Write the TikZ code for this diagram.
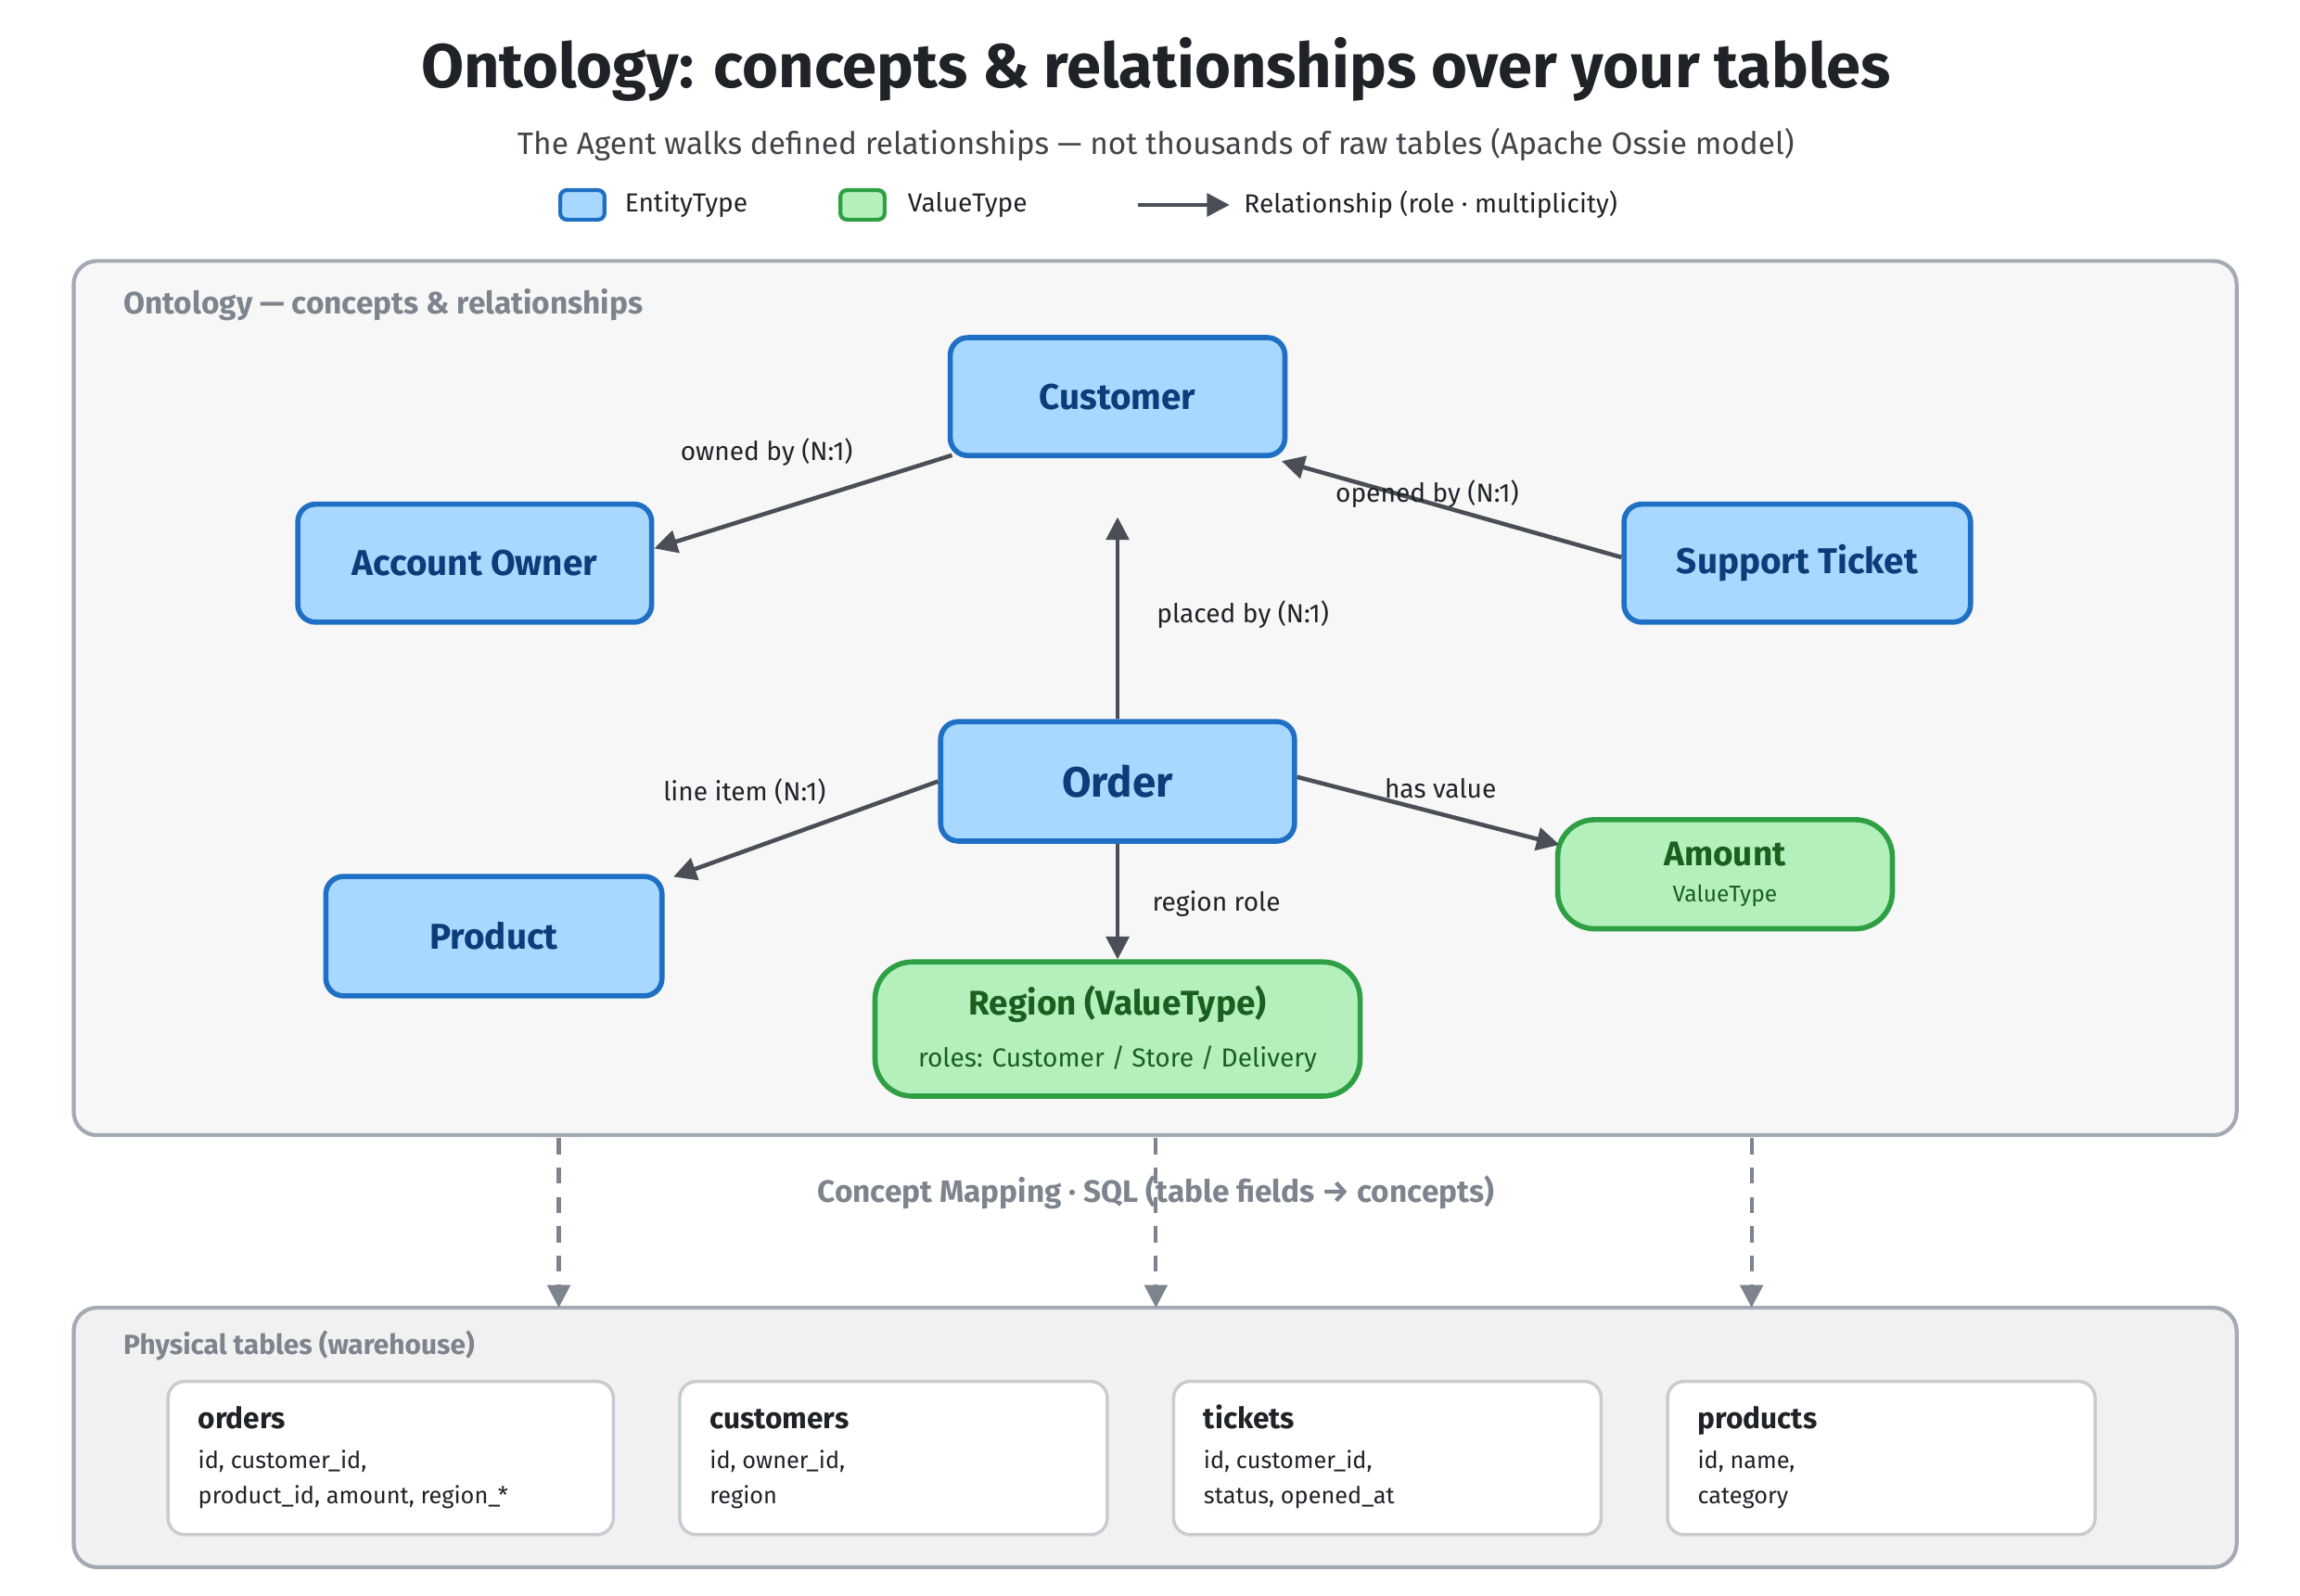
\documentclass[tikz,border=0pt]{standalone}
\usepackage{fontspec}
\setmainfont{Fira Sans}
\usetikzlibrary{arrows.meta,calc}
\definecolor{bfill}{HTML}{A8D8FF}\definecolor{bline}{HTML}{1F6FC5}\definecolor{btext}{HTML}{0D3C7A}
\definecolor{gfill}{HTML}{B4F0BC}\definecolor{gline}{HTML}{2EA043}\definecolor{gtext}{HTML}{1B5E20}
\definecolor{edge}{HTML}{4A4F57}\definecolor{gframe}{HTML}{A3AAB3}\definecolor{glabel}{HTML}{7D848D}
\definecolor{ink}{HTML}{1F2328}
\begin{document}
\begin{tikzpicture}[x=0.0159cm,y=-0.0159cm,
 ent/.style={draw=bline,fill=bfill,line width=1.6pt,rounded corners=0.19cm,text=btext,font=\fontsize{11}{13}\selectfont\bfseries,inner sep=0pt},
 val/.style={draw=gline,fill=gfill,line width=1.6pt,rounded corners=0.4cm,text=gtext,align=center,inner sep=0pt},
 rel/.style={draw=edge,line width=1.3pt,-{Triangle[length=7pt,width=7pt]}},
 lab/.style={font=\fontsize{8}{10}\selectfont,text=ink},
 frame/.style={draw=gframe,line width=1.2pt,rounded corners=0.25cm},
 map/.style={draw=glabel,line width=1.2pt,dashed,dash pattern=on 5pt off 4pt,-{Triangle[length=7pt,width=7pt]}},
 tbl/.style={draw=gframe!60,fill=white,line width=1pt,rounded corners=0.18cm,minimum width={290*0.0159cm},minimum height={104*0.0159cm}},
 glab/.style={font=\fontsize{9.5}{11}\selectfont\bfseries,text=glabel,anchor=west}]
\useasboundingbox (0,0) rectangle (1560,1082);
\node[font=\fontsize{19}{22}\selectfont\bfseries,text=ink] (title) at (784,47) {Ontology: concepts \& relationships over your tables};
\node[font=\fontsize{9.5}{11}\selectfont,text=ink!85] (sub) at (784,98) {The Agent walks defined relationships — not thousands of raw tables (Apache Ossie model)};
% legend
\node[draw=bline,fill=bfill,line width=1.2pt,rounded corners=2pt,minimum width={30*0.0159cm},minimum height={20*0.0159cm}] (lg1) at (395,139) {};
\node[lab,anchor=west] (lt1) at (416,139) {EntityType};
\node[draw=gline,fill=gfill,line width=1.2pt,rounded corners=2pt,minimum width={30*0.0159cm},minimum height={20*0.0159cm}] (lg2) at (585,139) {};
\node[lab,anchor=west] (lt2) at (608,139) {ValueType};
\coordinate (la) at (772,139); \coordinate (lb) at (834,139);
\draw[rel] (la) -- (lb);
\node[lab,anchor=west] (lt3) at (836,139) {Relationship (role · multiplicity)};
% ontology frame
\draw[frame,fill=gray!6] (50,177) rectangle (1517,770);
\node[glab] (olab) at (76,207) {Ontology — concepts \& relationships};
\node[ent,minimum width={227*0.0159cm},minimum height={80*0.0159cm}] (cust) at (758,269) {Customer};
\node[ent,minimum width={240*0.0159cm},minimum height={80*0.0159cm}] (acct) at (322,382) {Account Owner};
\node[ent,minimum width={235*0.0159cm},minimum height={80*0.0159cm}] (tick) at (1219,382) {Support Ticket};
\node[ent,minimum width={240*0.0159cm},minimum height={81*0.0159cm},font=\fontsize{13}{15}\selectfont\bfseries] (order) at (758,530) {Order};
\node[ent,minimum width={228*0.0159cm},minimum height={81*0.0159cm}] (prod) at (335,635) {Product};
\node[val,minimum width={227*0.0159cm},minimum height={74*0.0159cm}] (amt) at (1170,593) {{\fontsize{10.5}{12}\selectfont\bfseries Amount}\\[-1pt]{\fontsize{7}{9}\selectfont ValueType}};
\node[val,minimum width={329*0.0159cm},minimum height={91*0.0159cm}] (reg) at (758,698) {{\fontsize{10.5}{12}\selectfont\bfseries Region (ValueType)}\\[4pt]{\fontsize{8}{10}\selectfont roles: Customer / Store / Delivery}};
\draw[rel] ($(cust.south west)+(3,-2)$) -- ($(acct.east)+(0,-10)$);
\node[lab] (l1) at (520,307) {owned by (N:1)};
\draw[rel] ($(tick.west)+(0,-4)$) -- ($(cust.south east)+(-4,2)$);
\node[lab] (l2) at (968,335) {opened by (N:1)};
\draw[rel,shorten >=40*0.0159cm] (order) -- (cust);
\node[lab] (l3) at (843,417) {placed by (N:1)};
\draw[rel] (order.west) -- ($(prod.north east)+(6,2)$);
\node[lab] (l4) at (505,537) {line item (N:1)};
\draw[rel] ($(order.east)+(0,-3)$) -- ($(amt.west)+(3,-20)$);
\node[lab] (l5) at (977,535) {has value};
\draw[rel] (order) -- (reg);
\node[lab] (l6) at (825,613) {region role};
% physical tables
\draw[frame,fill=gray!11] (50,887) rectangle (1517,1063);
\node[glab,font=\fontsize{8.5}{10}\selectfont\bfseries] (plab) at (76,913) {Physical tables (warehouse)};
\coordinate (m1a) at (379,772); \coordinate (m1b) at (379,887);
\coordinate (m2a) at (784,772); \coordinate (m2b) at (784,887);
\coordinate (m3a) at (1188,772); \coordinate (m3b) at (1188,887);
\draw[map] (m1a) -- (m1b); \draw[map] (m2a) -- (m2b); \draw[map] (m3a) -- (m3b);
\node[font=\fontsize{9.5}{11}\selectfont\bfseries,text=glabel] (maplab) at (784,809) {Concept Mapping · SQL (table fields → concepts)};
\node[tbl,minimum width={302*0.0159cm}] (t1) at (265,989) {};
\node[tbl] (t2) at (606,989) {};
\node[tbl] (t3) at (941,989) {};
\node[tbl] (t4) at (1276,989) {};
\foreach \n/\x/\t/\a/\b in {t1/134/orders/{id, customer\_id,}/{product\_id, amount, region\_*},t2/481/customers/{id, owner\_id,}/region,t3/816/tickets/{id, customer\_id,}/{status, opened\_at},t4/1151/products/{id, name,}/category}{
 \node[anchor=base west,font=\fontsize{9}{11}\selectfont\bfseries,text=ink,inner sep=0pt] (\n h) at (\x,969) {\t};
 \node[anchor=base west,font=\fontsize{7.2}{9}\selectfont,text=ink,inner sep=0pt] (\n a) at (\x,996) {\a};
 \node[anchor=base west,font=\fontsize{7.2}{9}\selectfont,text=ink,inner sep=0pt] (\n b) at (\x,1020) {\b};
}
\end{tikzpicture}
\end{document}
